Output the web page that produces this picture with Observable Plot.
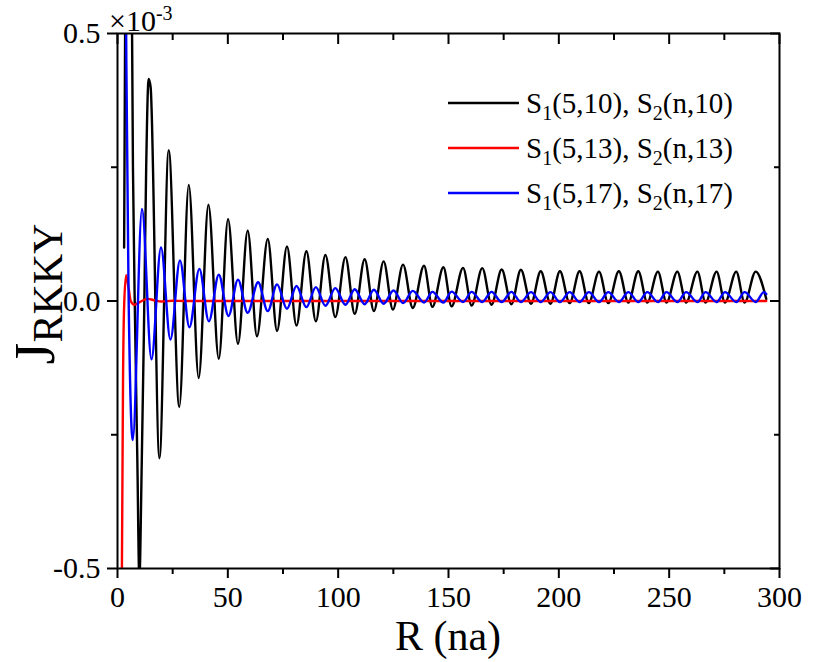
<!DOCTYPE html>
<html><head><meta charset="utf-8">
<script src="https://cdn.jsdelivr.net/npm/d3@7"></script>
<script src="https://cdn.jsdelivr.net/npm/@observablehq/plot@0.6"></script>
<style>body{margin:0;background:#fff}</style>
</head><body><div id="chart"></div>
<script>
// Legend rows and colours
const legendRows = [
  {a: "(5,10), ", b: "(n,10)"},
  {a: "(5,13), ", b: "(n,13)"},
  {a: "(5,17), ", b: "(n,17)"}
];
const seriesKeys = ["S1(5,10), S2(n,10)", "S1(5,13), S2(n,13)", "S1(5,17), S2(n,17)"];
const seriesColors = ["#000000", "#ff0000", "#0000ff"];

// Tick values
const xMajor = [0, 50, 100, 150, 200, 250, 300];
const xMinor = [25, 75, 125, 175, 225, 275];
const yMajor = [-0.5, 0, 0.5];
const yMinor = [-0.25, 0.25];

// J_RKKY values in units of 1e-3 (extrema + a few shape points)
const blackR = [3, 4, 5, 6, 7, 8, 9, 9.9, 11, 12, 13, 14.1, 15,
  19.0, 23.2, 28.0, 32.3, 36.8, 41.2, 45.9, 50.1, 54.6, 59.0, 63.2, 68.1, 72.3, 76.8,
  81.1, 85.6, 89.9, 94.2, 98.7, 103.3, 107.5, 112.0, 116.2, 120.6, 124.8, 129.4,
  133.8, 138.9, 142.7, 147.7, 151.4, 156.6, 160.5, 165.3, 169.5, 174.1, 178.5, 182.8,
  187.4, 191.8, 196.2, 200.5, 204.9, 209.4, 213.6, 218.2, 222.4, 227.2, 231.5, 236.0,
  240.1, 244.9, 248.8, 253.7, 257.7, 262.8, 266.5, 271.5, 275.3, 280.4, 284.2, 289.2, 294];
const blackJ = [0.1, 1.0, 1.6, 0.9, 0.25, -0.05, -0.3, -0.52, -0.3, -0.05, 0.25, 0.415, 0.40,
  -0.294, 0.282, -0.198, 0.217, -0.144, 0.180, -0.108, 0.153, -0.080, 0.1315, -0.066, 0.116, -0.056, 0.102,
  -0.046, 0.093, -0.038, 0.086, -0.030, 0.082, -0.024, 0.078, -0.019, 0.074, -0.016, 0.068,
  -0.013, 0.066, -0.011, 0.063, -0.010, 0.062, -0.0085, 0.0615, -0.007, 0.059, -0.006, 0.0585,
  -0.005, 0.0556, -0.005, 0.0556, -0.004, 0.0556, -0.004, 0.055, -0.004, 0.0556, -0.003, 0.0556,
  -0.003, 0.055, -0.003, 0.055, -0.003, 0.055, -0.003, 0.055, -0.003, 0.055, -0.003, 0.055, 0.004];

const redR = [1.5, 2, 2.5, 3, 3.9, 5, 6, 7.6, 10, 13.7, 17, 20, 25, 30, 294];
const redJ = [-1.2, -0.5, -0.15, -0.01, 0.048, 0.025, 0.0, -0.007, -0.002, 0.004, 0.001, -0.001, 0.0005, 0, 0];

const blueR = [3, 4, 5, 6.9, 11.1, 15.4,
  19.7, 24.0, 28.3, 32.6, 37.1, 41.4, 45.9, 50.3, 54.6, 59.0, 63.7, 68.1, 72.3, 76.8,
  81.1, 85.6, 89.9, 94.2, 98.7, 103.3, 107.5, 112.0, 116.2, 120.6, 125.1, 129.4,
  133.8, 138.9, 142.7, 147.7, 151.4, 156.6, 160.5, 165.3, 169.5, 174.1, 178.5, 182.8,
  187.4, 191.8, 196.2, 200.5, 204.9, 209.4, 213.6, 218.2, 222.4, 227.2, 231.5, 236.0,
  240.1, 244.9, 248.8, 253.7, 257.7, 262.8, 266.5, 271.5, 275.3, 280.4, 284.2, 289.2, 292.9, 294];
const blueJ = [1.1, 0.45, 0.02, -0.26, 0.172, -0.109,
  0.100, -0.072, 0.0756, -0.049, 0.060, -0.038, 0.049, -0.028, 0.040, -0.022, 0.035, -0.019, 0.031, -0.0146,
  0.028, -0.0115, 0.026, -0.009, 0.024, -0.007, 0.022, -0.006, 0.021, -0.005, 0.0196, -0.004,
  0.019, -0.003, 0.017, -0.003, 0.0175, -0.002, 0.017, -0.002, 0.017, -0.002, 0.017, -0.002,
  0.0165, -0.002, 0.0165, -0.002, 0.0165, -0.002, 0.0165, -0.002, 0.0165, -0.002, 0.0165, -0.002,
  0.0165, -0.002, 0.0165, -0.002, 0.0165, -0.002, 0.0165, -0.002, 0.0165, -0.002, 0.0165, -0.002, 0.0165, 0.013];

const table = [];
function addSeries(i, Rs, Js) { Rs.forEach((r, k) => table.push({s: seriesKeys[i], c: seriesColors[i], R: r, J: Js[k]})); }
addSeries(0, blackR, blackJ);
addSeries(1, redR, redJ);
addSeries(2, blueR, blueJ);

const FONT = "Liberation Serif, Times New Roman, serif";
const blank = () => "";
const axOpts = {label: null, strokeWidth: 2};

const svg = Plot.plot({
  width: 831, height: 662,
  marginLeft: 117, marginRight: 52, marginTop: 33, marginBottom: 94,
  style: {fontFamily: FONT, fontSize: "30px", color: "#000", background: "#fff"},
  x: {domain: [0, 300]},
  y: {domain: [-0.5, 0.5]},
  color: {type: "identity"},
  marks: [
    Plot.line(table, {x: "R", y: "J", z: "s", stroke: "c", curve: "monotone-x", strokeWidth: 2.4, clip: true}),
    Plot.axisX({...axOpts, ticks: xMajor, tickSize: 10, tickPadding: 7, tickFormat: d => String(d), fontSize: 30}),
    Plot.axisX({...axOpts, ticks: xMinor, tickSize: 6, tickFormat: blank}),
    Plot.axisX({...axOpts, anchor: "top", ticks: xMajor, tickSize: -10, tickFormat: blank}),
    Plot.axisX({...axOpts, anchor: "top", ticks: xMinor, tickSize: -6, tickFormat: blank}),
    Plot.axisY({...axOpts, ticks: yMajor, tickSize: 10, tickPadding: 7, tickFormat: d => d.toFixed(1), fontSize: 30}),
    Plot.axisY({...axOpts, ticks: yMinor, tickSize: 6, tickFormat: blank}),
    Plot.axisY({...axOpts, anchor: "right", ticks: yMajor, tickSize: -10, tickFormat: blank}),
    Plot.axisY({...axOpts, anchor: "right", ticks: yMinor, tickSize: -6, tickFormat: blank}),
    Plot.frame({strokeWidth: 2, stroke: "#000"})
  ]
});

const root = d3.select(svg);
root.attr("font-family", FONT);
root.selectAll("g[aria-label$='tick label']").attr("font-family", FONT).attr("font-size", 30);

const g = root.append("g").attr("font-family", FONT).attr("fill", "#000").attr("text-anchor", "start");

// Legend
const legY = [103, 148, 193];
legendRows.forEach((row, i) => {
  g.append("line").attr("x1", 448).attr("x2", 519).attr("y1", legY[i]).attr("y2", legY[i])
    .attr("stroke", seriesColors[i]).attr("stroke-width", 2.4);
  const t = g.append("text").attr("x", 526).attr("y", legY[i] + 10).attr("font-size", 29).attr("text-anchor", "start");
  t.append("tspan").text("S");
  t.append("tspan").attr("font-size", 20).attr("dy", 7).text("1");
  t.append("tspan").attr("dy", -7).text(row.a);
  t.append("tspan").text("S");
  t.append("tspan").attr("font-size", 20).attr("dy", 7).text("2");
  t.append("tspan").attr("dy", -7).text(row.b);
});

// Axis titles
g.append("text").attr("x", 448).attr("y", 650).attr("text-anchor", "middle").attr("font-size", 42).text("R (na)");
const yl = g.append("text").attr("transform", "translate(54,294) rotate(-90)").attr("text-anchor", "middle");
yl.append("tspan").attr("font-size", 56).text("J");
yl.append("tspan").attr("font-size", 42).attr("dy", 8).text("RKKY");

// Scale factor
const sf = g.append("text").attr("x", 109).attr("y", 31).attr("font-size", 30).attr("text-anchor", "start");
sf.append("tspan").text("×10");
sf.append("tspan").attr("font-size", 20).attr("dy", -11).text("-3");

document.getElementById("chart").appendChild(svg);
</script>
</body></html>
